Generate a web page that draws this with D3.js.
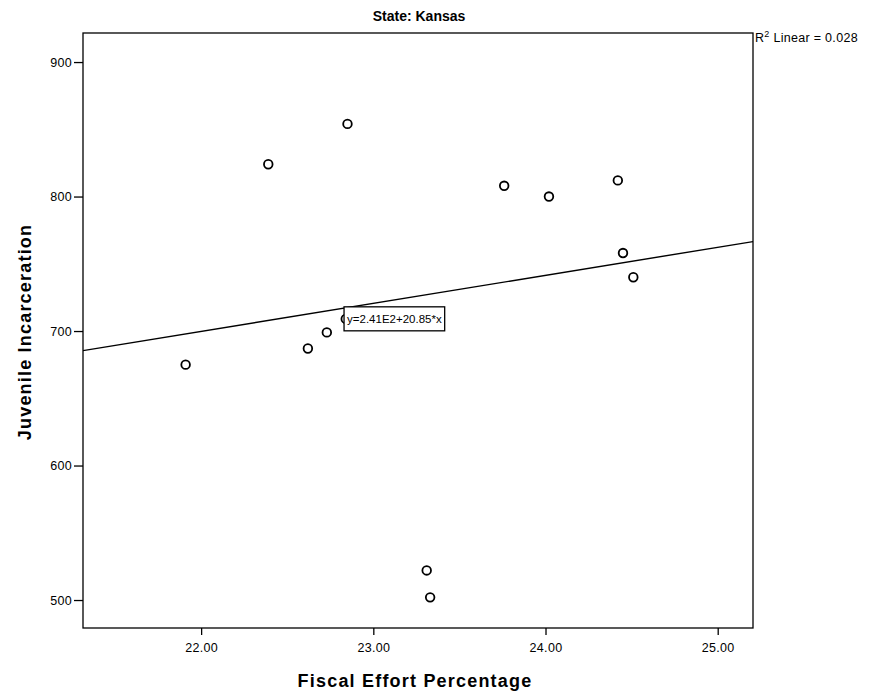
<!DOCTYPE html>
<html>
<head>
<meta charset="utf-8">
<script src="https://cdn.jsdelivr.net/npm/d3@7"></script>
<style>
  body { margin: 0; background: #fff; }
  svg { display: block; }
  text { font-family: "Liberation Sans", Arial, sans-serif; fill: #000; }
</style>
</head>
<body>
<svg id="chart" width="879" height="699"></svg>
<script>
// Fiscal effort vs. juvenile incarceration, Kansas
const fiscalEffort = [22.39, 22.85, 21.91, 22.62, 22.73, 22.84, 23.31, 23.33, 23.76, 24.02, 24.42, 24.45, 24.51];
const incarceration = [824, 854, 675, 687, 699, 709, 522, 502, 808, 800, 812, 758, 740];
const xTicks = [22, 23, 24, 25];
const yTicks = [500, 600, 700, 800, 900];
const fitIntercept = 241;
const fitSlope = 20.85;
const fitLabel = "y=2.41E2+20.85*x";
const rSquared = "0.028";

const svg = d3.select("#chart");
const plot = { left: 83, top: 33, right: 753, bottom: 628 };

const x = d3.scaleLinear().domain([21.314, 25.205]).range([plot.left, plot.right]);
const y = d3.scaleLinear().domain([479.2, 921.6]).range([plot.bottom, plot.top]);

// frame
svg.append("rect")
  .attr("x", plot.left).attr("y", plot.top)
  .attr("width", plot.right - plot.left).attr("height", plot.bottom - plot.top)
  .attr("fill", "none").attr("stroke", "#000").attr("stroke-width", 1.3);

// axes
const xAxis = svg.append("g")
  .attr("transform", `translate(0,${plot.bottom})`)
  .call(d3.axisBottom(x).tickValues(xTicks).tickFormat(d3.format(".2f")).tickSize(7).tickPadding(8));
const yAxis = svg.append("g")
  .attr("transform", `translate(${plot.left},0)`)
  .call(d3.axisLeft(y).tickValues(yTicks).tickFormat(d3.format("d")).tickSize(9).tickPadding(2));
[xAxis, yAxis].forEach(g => {
  g.style("color", "#000");
  g.select(".domain").remove();
  g.selectAll(".tick line").attr("stroke", "#000").attr("stroke-width", 1.3);
  g.selectAll(".tick text").attr("font-size", 12.5).attr("fill", "#000")
    .style("letter-spacing", "0.3px")
    .style("font-family", "'Liberation Sans', Arial, sans-serif");
});

// fit line clipped to the plot area
svg.append("defs").append("clipPath").attr("id", "plotClip")
  .append("rect").attr("x", plot.left).attr("y", plot.top)
  .attr("width", plot.right - plot.left).attr("height", plot.bottom - plot.top);
const xd = x.domain();
svg.append("line")
  .attr("clip-path", "url(#plotClip)")
  .attr("x1", x(xd[0])).attr("y1", y(fitIntercept + fitSlope * xd[0]))
  .attr("x2", x(xd[1])).attr("y2", y(fitIntercept + fitSlope * xd[1]))
  .attr("stroke", "#000").attr("stroke-width", 1.4);

// points
svg.append("g").selectAll("circle")
  .data(fiscalEffort.map((v, i) => [v, incarceration[i]]))
  .join("circle")
  .attr("cx", d => x(d[0])).attr("cy", d => y(d[1]))
  .attr("r", 4.3)
  .attr("fill", "#fff").attr("stroke", "#000").attr("stroke-width", 1.8);

// equation label, box sized to its text
const lab = svg.append("g").attr("transform", `translate(${x(22.83)},${y(718)})`);
const labBox = lab.append("rect").attr("x", 0).attr("y", 0).attr("height", 24)
  .attr("fill", "#fff").attr("stroke", "#000").attr("stroke-width", 1.3);
const labText = lab.append("text").attr("x", 3).attr("y", 16.5).attr("font-size", 11.5).text(fitLabel);
labBox.attr("width", labText.node().getComputedTextLength() + 6);

// R² annotation
const r2 = svg.append("text").attr("x", plot.right + 2).attr("y", 42)
  .attr("font-size", 12.5).style("letter-spacing", "0.3px");
r2.append("tspan").text("R");
r2.append("tspan").attr("dy", -5).attr("font-size", 9).text("2");
r2.append("tspan").attr("dy", 5).text(" Linear = " + rSquared);

// titles
svg.append("text").attr("x", 419).attr("y", 21).attr("text-anchor", "middle")
  .attr("font-size", 14).attr("font-weight", "bold").text("State: Kansas");
svg.append("text").attr("x", 415).attr("y", 687).attr("text-anchor", "middle")
  .attr("font-size", 18).attr("font-weight", "bold").style("letter-spacing", "1.2px")
  .text("Fiscal Effort Percentage");
svg.append("text").attr("transform", `translate(31,332) rotate(-90)`)
  .attr("text-anchor", "middle")
  .attr("font-size", 18).attr("font-weight", "bold").style("letter-spacing", "1.2px")
  .text("Juvenile Incarceration");
</script>
</body>
</html>
